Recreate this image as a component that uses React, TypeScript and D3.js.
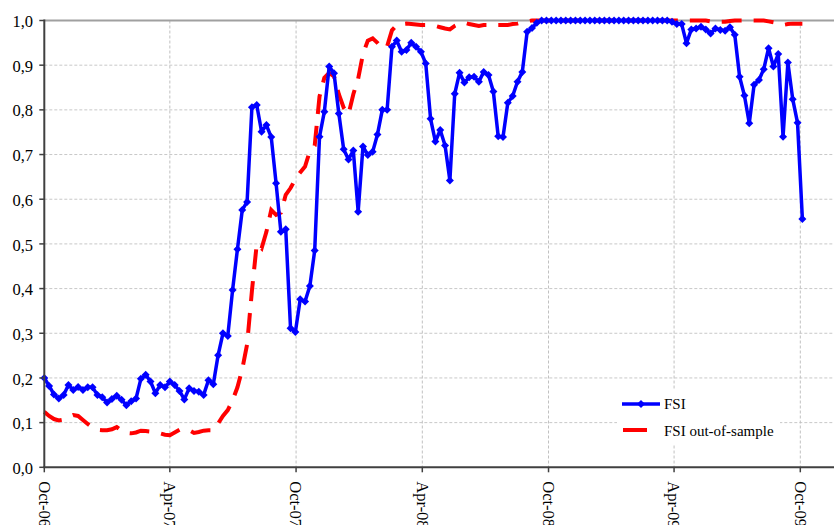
import React from "react";
import * as d3 from "d3";

// ---- data (weekly observations, Oct-2006 .. Oct-2009) ----
const startDate = new Date(2006, 9, 1);

const fsi: number[] = [
  0.2, 0.182, 0.163, 0.154, 0.162, 0.184, 0.173, 0.18, 0.173, 0.179,
  0.179, 0.162, 0.157, 0.145, 0.153, 0.16, 0.151, 0.139, 0.148, 0.154,
  0.198, 0.207, 0.192, 0.166, 0.184, 0.179, 0.192, 0.184, 0.171, 0.152,
  0.177, 0.171, 0.169, 0.162, 0.195, 0.186, 0.251, 0.3, 0.294, 0.397,
  0.488, 0.576, 0.594, 0.806, 0.811, 0.751, 0.766, 0.739, 0.636, 0.527,
  0.533, 0.311, 0.303, 0.376, 0.371, 0.406, 0.485, 0.74, 0.796, 0.897,
  0.882, 0.792, 0.712, 0.689, 0.709, 0.572, 0.718, 0.699, 0.706, 0.745,
  0.8, 0.8, 0.941, 0.955, 0.93, 0.934, 0.95, 0.941, 0.93, 0.904,
  0.78, 0.729, 0.755, 0.72, 0.642, 0.836, 0.883, 0.861, 0.873, 0.874,
  0.863, 0.885, 0.878, 0.841, 0.741, 0.739, 0.816, 0.831, 0.863, 0.885,
  0.975, 0.983, 0.995, 1, 1, 1, 1, 1, 1, 1,
  1, 1, 1, 1, 1, 1, 1, 1, 1, 1,
  1, 1, 1, 1, 1, 1, 1, 1, 1, 1,
  0.997, 0.992, 0.992, 0.949, 0.98, 0.982, 0.986, 0.98, 0.971, 0.982,
  0.979, 0.977, 0.985, 0.968, 0.874, 0.832, 0.77, 0.856, 0.867, 0.891,
  0.938, 0.897, 0.925, 0.74, 0.906, 0.824, 0.771, 0.556,
];

const fsiOut: number[] = [
  0.124, 0.115, 0.108, 0.105, 0.107, 0.113, 0.117, 0.115, 0.106, 0.097,
  0.089, 0.084, 0.083, 0.083, 0.085, 0.09, 0.082, 0.077, 0.076, 0.078,
  0.082, 0.081, 0.08, 0.078, 0.076, 0.073, 0.072, 0.078, 0.084, 0.085,
  0.083, 0.077, 0.079, 0.082, 0.083, 0.083, 0.098, 0.115, 0.128, 0.15,
  0.179, 0.22, 0.275, 0.395, 0.5, 0.49, 0.527, 0.576, 0.565, 0.57,
  0.61, 0.625, 0.645, 0.66, 0.673, 0.708, 0.72, 0.83, 0.872, 0.883,
  0.875, 0.835, 0.805, 0.79, 0.835, 0.87, 0.925, 0.955, 0.96, 0.95,
  0.938, 0.942, 0.978, 0.99, 0.992, 0.993, 0.992, 0.991, 0.99, 0.99,
  0.989, 0.988, 0.985, 0.982, 0.98, 0.988, 0.993, 0.995, 0.992, 0.99,
  0.988, 0.99, 0.99, 0.988, 0.99, 0.99, 0.99, 0.992, 0.993, 0.996,
  0.998, 1, 1, 1, 1, 1, 1, 1, 1, 1,
  1, 1, 1, 1, 1, 1, 1, 1, 1, 1,
  1, 1, 1, 1, 1, 1, 1, 1, 1, 1,
  1, 1, 1, 1, 1, 1, 1, 1, 0.998, 0.998,
  0.997, 0.997, 0.999, 1, 1, 1, 1, 1, 1, 1,
  0.998, 0.996, 0.994, 0.99, 0.992, 0.993, 0.993, 0.993,
];

const tickDates = [
  new Date(2006, 9, 1),
  new Date(2007, 3, 1),
  new Date(2007, 9, 1),
  new Date(2008, 3, 1),
  new Date(2008, 9, 1),
  new Date(2009, 3, 1),
  new Date(2009, 9, 1),
];
const yTicks = [0, 0.1, 0.2, 0.3, 0.4, 0.5, 0.6, 0.7, 0.8, 0.9, 1.0];
const seriesNames = ["FSI", "FSI out-of-sample"];

const W = 834;
const H = 525;
const FONT = "'Liberation Serif', 'Times New Roman', serif";

export default function App() {
  const dates = fsi.map((_, i) => d3.timeDay.offset(startDate, 7 * i));
  const x = d3
    .scaleTime()
    .domain([tickDates[0], tickDates[tickDates.length - 1]])
    .range([44.3, 800.3]);
  const y = d3.scaleLinear().domain([0, 1]).range([467.3, 20.5]);
  const fmtY = (v: number) => d3.format(".1f")(v).replace(".", ",");
  const fmtX = d3.timeFormat("%b-%y");

  const line = d3
    .line<number>()
    .x((_, i) => x(dates[i]))
    .y((d) => y(d));

  const x0 = x.range()[0];
  const diamond = (r: number) => `M0,${-r}L${r},0L0,${r}L${-r},0Z`;

  return (
    <svg
      width={W}
      height={H}
      style={{ position: "absolute", left: 0, top: 0, background: "#fff" }}
      fontFamily={FONT}
    >
      {/* horizontal gridlines */}
      {yTicks.slice(1, -1).map((t) => (
        <line
          key={"hg" + t}
          x1={x0}
          x2={W}
          y1={y(t)}
          y2={y(t)}
          stroke="#c8c8c8"
          strokeWidth={1}
          strokeDasharray="3,2"
        />
      ))}
      {/* vertical gridlines */}
      {tickDates.slice(1).map((d) => (
        <line
          key={"vg" + d.getTime()}
          x1={x(d)}
          x2={x(d)}
          y1={y(1)}
          y2={y(0)}
          stroke="#c0c0c0"
          strokeWidth={1}
          strokeDasharray="3,2"
        />
      ))}
      {/* top border */}
      <line x1={x0} x2={W} y1={y(1)} y2={y(1)} stroke="#a0a0a0" strokeWidth={2} />

      {/* legend background */}
      <rect x={617} y={390} width={163} height={55} fill="#fff" />

      {/* series */}
      <path
        d={line(fsiOut) || ""}
        fill="none"
        stroke="#ff0000"
        strokeWidth={4}
        strokeDasharray="20,12"
      />
      <path d={line(fsi) || ""} fill="none" stroke="#0000ff" strokeWidth={3.5} strokeLinejoin="round" />
      {fsi.map((v, i) => (
        <path
          key={"m" + i}
          d={diamond(4)}
          transform={`translate(${x(dates[i])},${y(v)})`}
          fill="#0000ff"
        />
      ))}

      {/* y axis */}
      <line x1={x0} x2={x0} y1={y(1) - 1} y2={y(0)} stroke="#404040" strokeWidth={2} />
      {yTicks.map((t) => (
        <g key={"yt" + t}>
          <line x1={x0 - 5} x2={x0} y1={y(t)} y2={y(t)} stroke="#404040" strokeWidth={1.5} />
          <text
            x={33}
            y={y(t)}
            dy="0.4em"
            textAnchor="end"
            fontSize={16.5}
            fill="#000"
          >
            {fmtY(t)}
          </text>
        </g>
      ))}

      {/* x axis */}
      <line x1={x0 - 1} x2={W} y1={y(0)} y2={y(0)} stroke="#404040" strokeWidth={2} />
      {tickDates.map((d) => (
        <g key={"xt" + d.getTime()}>
          <line x1={x(d)} x2={x(d)} y1={y(0)} y2={y(0) + 5} stroke="#404040" strokeWidth={1.5} />
          <text
            transform={`translate(${x(d)},${y(0) + 14}) rotate(90)`}
            dy="0.35em"
            textAnchor="start"
            fontSize={16.5}
            fill="#000"
          >
            {fmtX(d)}
          </text>
        </g>
      ))}

      {/* legend */}
      <line x1={622} x2={660} y1={404} y2={404} stroke="#0000ff" strokeWidth={3.5} />
      <path d={diamond(4)} transform="translate(641,404)" fill="#0000ff" />
      <text x={664} y={404} dy="0.35em" fontSize={15} fill="#000">
        {seriesNames[0]}
      </text>
      <line x1={623} x2={647} y1={430} y2={430} stroke="#ff0000" strokeWidth={4} />
      <text x={664} y={431} dy="0.35em" fontSize={15} fill="#000">
        {seriesNames[1]}
      </text>
    </svg>
  );
}
